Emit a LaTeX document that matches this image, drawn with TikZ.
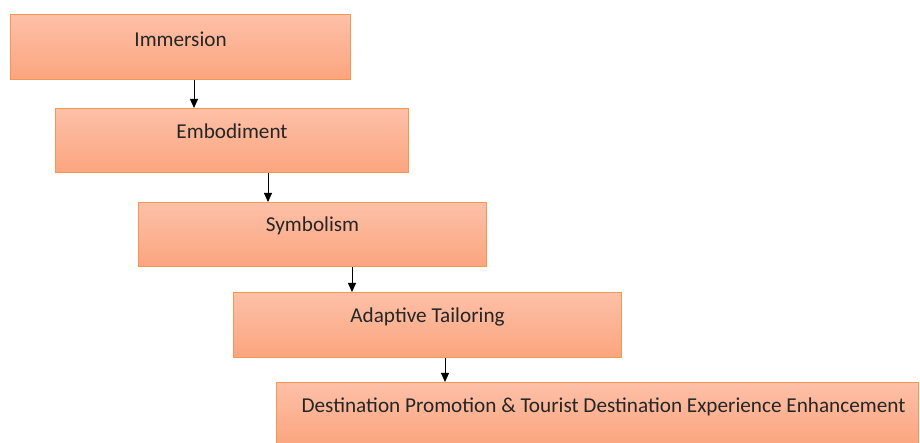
\documentclass[tikz,border=0pt]{standalone}
\usepackage{fontspec}
\setmainfont{Carlito}
\usetikzlibrary{arrows.meta}
\definecolor{boxtop}{RGB}{253,192,168}
\definecolor{boxbot}{RGB}{251,165,126}
\definecolor{boxline}{RGB}{247,150,80}

\begin{document}
\begin{tikzpicture}[x=1pt, y=1pt,
  box/.style={draw=boxline, line width=1.1pt, top color=boxtop, bottom color=boxbot,
    anchor=north west, inner sep=0pt},
  lbl/.style={font=\fontsize{21.2}{25}\selectfont, text=black!85, inner sep=0pt},
  arr/.style={-{Triangle[length=9pt,width=8pt]}, line width=0.9pt}]
\useasboundingbox (0,0) rectangle (920,443);

% boxes
\node[box, minimum width=340pt, minimum height=65pt] (imm) at (10,429) {};
\node[box, minimum width=353pt, minimum height=64pt] (emb) at (55,335) {};
\node[box, minimum width=348pt, minimum height=64pt] (sym) at (138,241) {};
\node[box, minimum width=388pt, minimum height=65pt] (ada) at (233,151) {};
\node[box, minimum width=642pt, minimum height=63pt] (des) at (276,61) {};

% texts
\node[lbl] (immtxt) at (imm.north) [yshift=-25pt] {Immersion};
\node[lbl] (embtxt) at (emb.north) [yshift=-23pt] {Embodiment};
\node[lbl] (symtxt) at (sym.north) [yshift=-24pt] {Symbolism};
\node[lbl] (adatxt) at (ada.north) [yshift=-25pt] {Adaptive Tailoring};
\node[lbl] (destxt) at (des.north) [yshift=-25pt, xshift=6pt] {Destination Promotion \& Tourist Destination Experience Enhancement};

% arrows
\draw[arr] (imm.south -| 194,0) -- (emb.north -| 194,0);
\draw[arr] (emb.south -| 268,0) -- (sym.north -| 268,0);
\draw[arr] (sym.south -| 352,0) -- (ada.north -| 352,0);
\draw[arr] (ada.south -| 445,0) -- (des.north -| 445,0);
\end{tikzpicture}
\end{document}
